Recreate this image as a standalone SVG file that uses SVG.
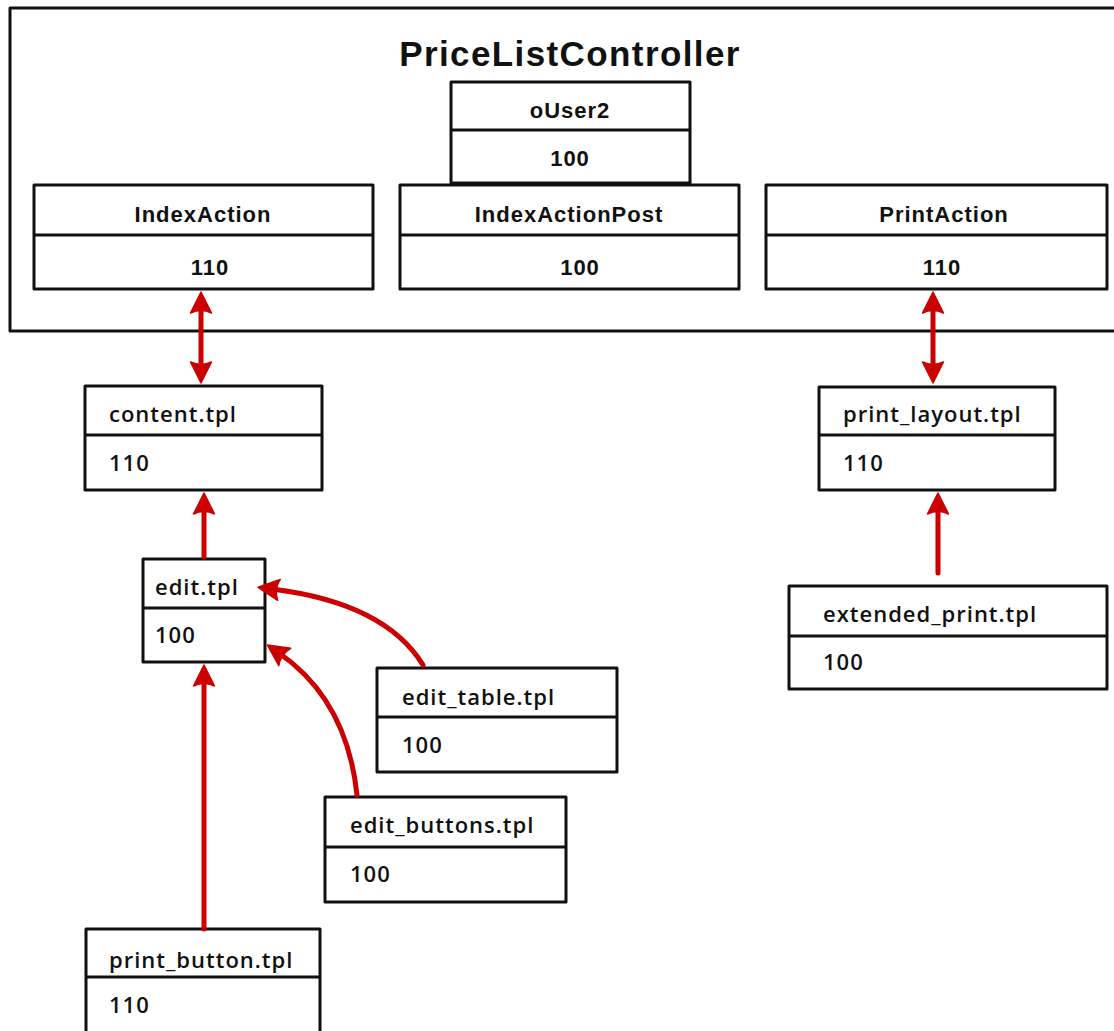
<svg xmlns="http://www.w3.org/2000/svg" width="1114" height="1031" viewBox="0 0 1114 1031">
  <style>
    .box { fill: #ffffff; stroke: #111111; stroke-width: 3; stroke-linejoin: round; }
    .div { stroke: #111111; stroke-width: 3; }
    .title { font-family: "Liberation Sans", Arial, sans-serif; font-weight: bold; font-size: 35px; letter-spacing: 1.4px; fill: #111111; }
    .hdr { font-family: "Liberation Sans", Arial, sans-serif; font-weight: bold; font-size: 22px; letter-spacing: 1px; fill: #111111; }
    .lbl { font-family: "Open Sans", "Noto Sans", sans-serif; font-weight: 600; font-size: 22px; letter-spacing: 1px; fill: #111111; }
    .conn { fill: none; stroke: #cc0000; stroke-width: 5; stroke-linecap: round; }
  </style>
  <defs>
    <marker id="head" viewBox="0 0 24 24" markerUnits="userSpaceOnUse" markerWidth="24" markerHeight="24" refX="8" refY="12" orient="auto-start-reverse">
      <path d="M22,12 L1,1.5 Q6,12 1,22.5 Z" fill="#cc0000" stroke="#cc0000" stroke-width="1.5" stroke-linejoin="round"/>
    </marker>
  </defs>
  <rect width="1114" height="1031" fill="#ffffff"/>

  <!-- controller frame -->
  <g id="controller">
    <rect class="box" x="10" y="8" width="1120" height="323"/>
    <text class="title" x="570" y="66" text-anchor="middle">PriceListController</text>
  </g>

  <g id="oUser2">
    <rect class="box" x="451" y="82" width="239" height="101"/>
    <line class="div" x1="451" y1="130" x2="690" y2="130"/>
    <text class="hdr" x="570" y="118" text-anchor="middle">oUser2</text>
    <text class="hdr" x="570" y="166" text-anchor="middle">100</text>
  </g>

  <g id="IndexAction">
    <rect class="box" x="34" y="185" width="339" height="104"/>
    <line class="div" x1="34" y1="235" x2="373" y2="235"/>
    <text class="hdr" x="203" y="222" text-anchor="middle">IndexAction</text>
    <text class="hdr" x="210" y="275" text-anchor="middle">110</text>
  </g>

  <g id="IndexActionPost">
    <rect class="box" x="400" y="185" width="339" height="104"/>
    <line class="div" x1="400" y1="235" x2="739" y2="235"/>
    <text class="hdr" x="569" y="222" text-anchor="middle">IndexActionPost</text>
    <text class="hdr" x="580" y="275" text-anchor="middle">100</text>
  </g>

  <g id="PrintAction">
    <rect class="box" x="766" y="185" width="341" height="104"/>
    <line class="div" x1="766" y1="235" x2="1107" y2="235"/>
    <text class="hdr" x="944" y="222" text-anchor="middle">PrintAction</text>
    <text class="hdr" x="942" y="275" text-anchor="middle">110</text>
  </g>

  <g id="content_tpl">
    <rect class="box" x="85" y="386" width="237" height="104"/>
    <line class="div" x1="85" y1="435" x2="322" y2="435"/>
    <text class="lbl" x="109" y="422">content.tpl</text>
    <text class="lbl" x="109" y="471">110</text>
  </g>

  <g id="edit_tpl">
    <rect class="box" x="143" y="559" width="122" height="103"/>
    <line class="div" x1="143" y1="608" x2="265" y2="608"/>
    <text class="lbl" x="155" y="595">edit.tpl</text>
    <text class="lbl" x="155" y="643">100</text>
  </g>

  <g id="edit_table_tpl">
    <rect class="box" x="377" y="668" width="240" height="104"/>
    <line class="div" x1="377" y1="717" x2="617" y2="717"/>
    <text class="lbl" x="402" y="705">edit_table.tpl</text>
    <text class="lbl" x="402" y="753">100</text>
  </g>

  <g id="edit_buttons_tpl">
    <rect class="box" x="325" y="797" width="241" height="105"/>
    <line class="div" x1="325" y1="847" x2="566" y2="847"/>
    <text class="lbl" x="350" y="833">edit_buttons.tpl</text>
    <text class="lbl" x="350" y="882">100</text>
  </g>

  <g id="print_button_tpl">
    <rect class="box" x="86" y="929" width="234" height="110"/>
    <line class="div" x1="86" y1="977" x2="320" y2="977"/>
    <text class="lbl" x="109" y="968">print_button.tpl</text>
    <text class="lbl" x="109" y="1013">110</text>
  </g>

  <g id="print_layout_tpl">
    <rect class="box" x="819" y="387" width="236" height="103"/>
    <line class="div" x1="819" y1="435" x2="1055" y2="435"/>
    <text class="lbl" x="843" y="422">print_layout.tpl</text>
    <text class="lbl" x="843" y="471">110</text>
  </g>

  <g id="extended_print_tpl">
    <rect class="box" x="789" y="586" width="318" height="103"/>
    <line class="div" x1="789" y1="636" x2="1107" y2="636"/>
    <text class="lbl" x="823" y="622">extended_print.tpl</text>
    <text class="lbl" x="823" y="670">100</text>
  </g>

  <!-- connectors -->
  <g id="connectors">
    <path class="conn" d="M201,306 L201,369" marker-start="url(#head)" marker-end="url(#head)"/>
    <path class="conn" d="M933,306 L933,369" marker-start="url(#head)" marker-end="url(#head)"/>
    <path class="conn" d="M204,557 L204,507" marker-end="url(#head)"/>
    <path class="conn" d="M938,573 L938,507" marker-end="url(#head)"/>
    <path class="conn" d="M204,929 L204,679" marker-end="url(#head)"/>
    <path class="conn" d="M423,665 Q385,603 272,589" marker-end="url(#head)"/>
    <path class="conn" d="M357,795 Q347,700 279,653" marker-end="url(#head)"/>
  </g>
</svg>
